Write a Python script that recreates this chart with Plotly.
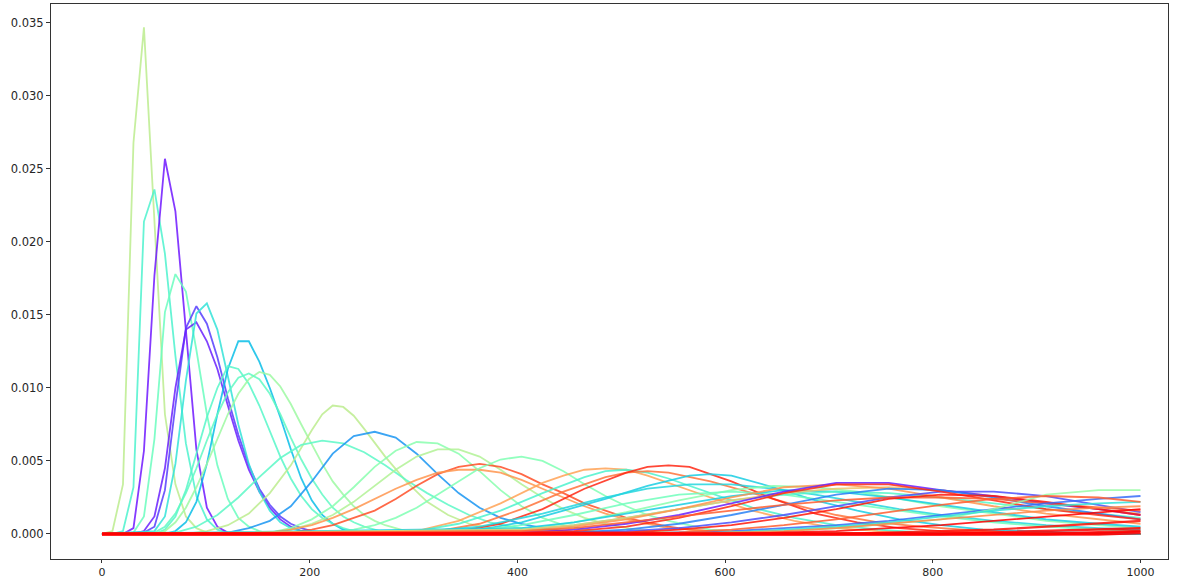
import math
import plotly.graph_objects as go

# ---------------- data ----------------
# narrow, early curves (sampled every ~10.1 units)
x01 = [0, 10.1, 20.2, 30.3, 40.4, 50.5, 60.6, 70.7, 80.8, 90.9, 101.0, 111.1, 1000]
y01 = [0, 0.0002, 0.0034, 0.0268, 0.0347, 0.0212, 0.0082, 0.0034, 0.0012, 0.0004, 0.0001, 0, 0]

x02 = [0, 10.1, 20.2, 30.3, 40.4, 50.5, 60.6, 70.7, 80.8, 90.9, 101.0, 111.1, 121.2, 1000]
y02 = [0, 0, 0.0002, 0.0032, 0.0214, 0.0236, 0.0192, 0.0122, 0.0062, 0.0026, 0.0010, 0.0003, 0.0001, 0]

x03 = [0, 20.2, 30.3, 40.4, 50.5, 60.6, 70.7, 80.8, 90.9, 101.0, 111.1, 121.2, 131.3, 1000]
y03 = [0, 0, 0.0004, 0.0057, 0.0177, 0.0257, 0.0221, 0.0138, 0.0058, 0.0018, 0.0005, 0.0001, 0, 0]

x04 = [0, 30.3, 40.4, 50.5, 60.6, 70.7, 80.8, 90.9, 101.0, 111.1, 121.2, 131.3, 141.4, 151.5, 161.6, 1000]
y04 = [0, 0.0001, 0.0012, 0.0065, 0.0152, 0.0178, 0.0166, 0.0126, 0.0082, 0.0047, 0.0024, 0.0011, 0.0005, 0.0002, 0, 0]

x05 = [0, 40.4, 50.5, 60.6, 70.7, 80.8, 90.9, 101.0, 111.1, 121.2, 131.3, 141.4, 151.5, 161.6, 171.7, 181.8, 191.9, 202.0, 212.1, 1000]
y05 = [0, 0.0001, 0.0005, 0.0030, 0.0088, 0.0141, 0.0156, 0.0144, 0.0121, 0.0093, 0.0068, 0.0047, 0.0031, 0.0020, 0.0012, 0.0007, 0.0004, 0.0002, 0.0001, 0]

x06 = [0, 30.3, 40.4, 50.5, 60.6, 70.7, 80.8, 90.9, 101.0, 111.1, 121.2, 131.3, 141.4, 151.5, 161.6, 171.7, 181.8, 191.9, 202.0, 1000]
y06 = [0, 0, 0.0002, 0.0012, 0.0045, 0.0100, 0.0140, 0.0145, 0.0132, 0.0113, 0.0088, 0.0064, 0.0044, 0.0029, 0.0018, 0.0010, 0.0005, 0.0002, 0.0001, 0]

x07 = [0, 50.5, 60.6, 70.7, 80.8, 90.9, 101.0, 111.1, 121.2, 131.3, 141.4, 151.5, 161.6, 171.7, 181.8, 191.9, 202.0, 1000]
y07 = [0, 0.0002, 0.0012, 0.0048, 0.0105, 0.0151, 0.0158, 0.0140, 0.0108, 0.0075, 0.0048, 0.0029, 0.0016, 0.0008, 0.0004, 0.0002, 0, 0]

x08 = [0, 60.6, 70.7, 80.8, 90.9, 101.0, 111.1, 121.2, 131.3, 141.4, 151.5, 161.6, 171.7, 181.8, 191.9, 202.0, 212.1, 222.2, 232.3, 242.4, 1000]
y08 = [0, 0, 0.0002, 0.0008, 0.0022, 0.0048, 0.0082, 0.0113, 0.0132, 0.0132, 0.0118, 0.0100, 0.0080, 0.0058, 0.0038, 0.0023, 0.0013, 0.0007, 0.0003, 0.0001, 0]

x09 = [0, 50.5, 60.6, 70.7, 80.8, 90.9, 101.0, 111.1, 121.2, 131.3, 141.4, 151.5, 161.6, 171.7, 181.8, 191.9, 202.0, 212.1, 222.2, 232.3, 242.4, 252.5, 1000]
y09 = [0, 0, 0.0003, 0.0012, 0.0030, 0.0055, 0.0080, 0.0100, 0.0115, 0.0113, 0.0103, 0.0088, 0.0070, 0.0053, 0.0038, 0.0026, 0.0017, 0.0011, 0.0007, 0.0004, 0.0002, 0.0001, 0]

x10 = [0, 50.5, 60.6, 70.7, 80.8, 90.9, 101.0, 111.1, 121.2, 131.3, 141.4, 151.5, 161.6, 171.7, 181.8, 191.9, 202.0, 212.1, 222.2, 232.3, 242.4, 252.5, 262.6, 272.7, 282.8, 292.9, 303.0, 1000]
y10 = [0, 0, 0.0002, 0.0008, 0.0018, 0.0032, 0.0048, 0.0065, 0.0082, 0.0096, 0.0106, 0.0111, 0.0109, 0.0101, 0.0089, 0.0075, 0.0061, 0.0048, 0.0036, 0.0027, 0.0019, 0.0013, 0.0009, 0.0006, 0.0004, 0.0002, 0.0001, 0]

x11 = [0, 50.5, 60.6, 70.7, 80.8, 90.9, 101.0, 111.1, 121.2, 131.3, 141.4, 151.5, 161.6, 171.7, 181.8, 191.9, 202.0, 212.1, 222.2, 232.3, 242.4, 252.5, 262.6, 272.7, 1000]
y11 = [0, 0.0001, 0.0005, 0.0014, 0.0028, 0.0045, 0.0064, 0.0082, 0.0097, 0.0107, 0.0110, 0.0106, 0.0096, 0.0082, 0.0066, 0.0051, 0.0038, 0.0027, 0.0018, 0.0012, 0.0008, 0.0005, 0.0003, 0.0001, 0]

# medium curves (sampled every ~20.2 units)
x12 = [0, 80.8, 101.0, 121.2, 141.4, 161.6, 181.8, 202.0, 212.1, 222.2, 232.3, 242.4, 252.5, 272.7, 292.9, 313.1, 333.3, 353.5, 373.7, 393.9, 414.1, 1000]
y12 = [0, 0, 0.0002, 0.0006, 0.0014, 0.0028, 0.0047, 0.0071, 0.0082, 0.0088, 0.0087, 0.0081, 0.0072, 0.0053, 0.0036, 0.0022, 0.0013, 0.0007, 0.0004, 0.0002, 0.0001, 0]

x13 = [0, 70.7, 90.9, 111.1, 131.3, 151.5, 171.7, 191.9, 212.1, 232.3, 252.5, 272.7, 292.9, 313.1, 333.3, 353.5, 373.7, 393.9, 414.1, 434.3, 454.5, 1000]
y13 = [0, 0.0001, 0.0005, 0.0013, 0.0025, 0.0039, 0.0052, 0.0061, 0.0064, 0.0062, 0.0056, 0.0047, 0.0037, 0.0028, 0.0020, 0.0013, 0.0008, 0.0005, 0.0003, 0.0002, 0.0001, 0]

x14 = [0, 101.0, 121.2, 141.4, 161.6, 181.8, 202.0, 222.2, 242.4, 262.6, 282.8, 303.0, 323.2, 343.4, 363.6, 383.8, 404.0, 424.2, 444.4, 464.6, 484.8, 1000]
y14 = [0, 0, 0.0001, 0.0004, 0.0009, 0.0019, 0.0036, 0.0055, 0.0067, 0.0070, 0.0066, 0.0055, 0.0041, 0.0028, 0.0018, 0.0011, 0.0007, 0.0004, 0.0002, 0.0001, 0, 0]

x15 = [0, 141.4, 161.6, 181.8, 202.0, 222.2, 242.4, 262.6, 282.8, 303.0, 323.2, 343.4, 363.6, 383.8, 404.0, 424.2, 444.4, 464.6, 484.8, 505.0, 1000]
y15 = [0, 0, 0.0001, 0.0004, 0.0010, 0.0019, 0.0032, 0.0046, 0.0057, 0.0063, 0.0062, 0.0055, 0.0043, 0.0030, 0.0019, 0.0011, 0.0006, 0.0003, 0.0001, 0, 0]

x16 = [0, 141.4, 161.6, 181.8, 202.0, 222.2, 242.4, 262.6, 282.8, 303.0, 323.2, 343.4, 363.6, 383.8, 404.0, 424.2, 444.4, 464.6, 484.8, 505.0, 525.3, 545.5, 1000]
y16 = [0, 0, 0.0001, 0.0003, 0.0007, 0.0013, 0.0022, 0.0033, 0.0044, 0.0053, 0.0058, 0.0058, 0.0053, 0.0044, 0.0034, 0.0025, 0.0017, 0.0011, 0.0007, 0.0004, 0.0002, 0.0001, 0]

x17 = [0, 161.6, 181.8, 202.0, 222.2, 242.4, 262.6, 282.8, 303.0, 323.2, 343.4, 363.6, 383.8, 404.0, 424.2, 444.4, 464.6, 484.8, 505.0, 525.3, 545.5, 565.7, 585.9, 606.1, 626.3, 1000]
y17 = [0, 0, 0.0001, 0.0003, 0.0006, 0.0011, 0.0016, 0.0024, 0.0033, 0.0041, 0.0046, 0.0048, 0.0046, 0.0041, 0.0034, 0.0028, 0.0021, 0.0016, 0.0011, 0.0008, 0.0005, 0.0003, 0.0002, 0.0001, 0, 0]

x18 = [0, 141.4, 161.6, 181.8, 202.0, 222.2, 242.4, 262.6, 282.8, 303.0, 323.2, 343.4, 363.6, 383.8, 404.0, 424.2, 444.4, 464.6, 484.8, 505.0, 525.3, 545.5, 565.7, 585.9, 606.1, 626.3, 1000]
y18 = [0, 0, 0.0001, 0.0003, 0.0006, 0.0011, 0.0017, 0.0024, 0.0031, 0.0037, 0.0042, 0.0044, 0.0044, 0.0042, 0.0037, 0.0031, 0.0025, 0.0019, 0.0014, 0.0010, 0.0007, 0.0004, 0.0003, 0.0002, 0.0001, 0, 0]

x19 = [0, 202.0, 222.2, 242.4, 262.6, 282.8, 303.0, 323.2, 343.4, 363.6, 383.8, 404.0, 424.2, 444.4, 464.6, 484.8, 505.0, 525.3, 545.5, 565.7, 585.9, 606.1, 626.3, 646.5, 1000]
y19 = [0, 0, 0.0001, 0.0003, 0.0006, 0.0011, 0.0018, 0.0027, 0.0036, 0.0045, 0.0051, 0.0053, 0.0050, 0.0043, 0.0034, 0.0026, 0.0019, 0.0013, 0.0009, 0.0006, 0.0003, 0.0002, 0.0001, 0, 0]

# wider curves (sampled every ~20-40 units)
x20 = [0, 262.6, 303.0, 343.4, 383.8, 424.2, 444.4, 464.6, 484.8, 505.0, 525.3, 545.5, 585.9, 626.3, 666.7, 707.1, 747.5, 787.9, 828.3, 1000]
y20 = [0, 0, 0.0002, 0.0009, 0.0021, 0.0035, 0.0040, 0.0044, 0.0045, 0.0044, 0.0040, 0.0035, 0.0025, 0.0016, 0.0009, 0.0004, 0.0002, 0.0001, 0, 0]

x21 = [0, 262.6, 303.0, 343.4, 383.8, 424.2, 464.6, 484.8, 505.0, 525.3, 545.5, 585.9, 626.3, 666.7, 707.1, 747.5, 787.9, 828.3, 1000]
y21 = [0, 0, 0.0002, 0.0007, 0.0016, 0.0028, 0.0039, 0.0043, 0.0044, 0.0042, 0.0038, 0.0028, 0.0018, 0.0011, 0.0006, 0.0003, 0.0001, 0, 0]

x22 = [0, 282.8, 323.2, 363.6, 404.0, 444.4, 484.8, 505.0, 525.3, 545.5, 585.9, 626.3, 666.7, 707.1, 747.5, 787.9, 828.3, 868.7, 1000]
y22 = [0, 0, 0.0002, 0.0007, 0.0017, 0.0029, 0.0039, 0.0042, 0.0043, 0.0042, 0.0036, 0.0028, 0.0020, 0.0013, 0.0008, 0.0005, 0.0003, 0.0001, 0]

x23 = [0, 303.0, 343.4, 383.8, 424.2, 464.6, 505.0, 525.3, 545.5, 565.7, 606.1, 646.5, 686.9, 727.3, 767.7, 808.1, 848.5, 888.9, 1000]
y23 = [0, 0, 0.0002, 0.0007, 0.0017, 0.0031, 0.0042, 0.0046, 0.0047, 0.0046, 0.0036, 0.0024, 0.0014, 0.0008, 0.0004, 0.0002, 0.0001, 0, 0]

x24 = [0, 303.0, 363.6, 404.0, 444.4, 484.8, 525.3, 565.7, 585.9, 606.1, 646.5, 686.9, 727.3, 767.7, 808.1, 848.5, 888.9, 929.3, 1000]
y24 = [0, 0, 0.0003, 0.0008, 0.0016, 0.0024, 0.0033, 0.0040, 0.0041, 0.0040, 0.0032, 0.0023, 0.0016, 0.0010, 0.0006, 0.0003, 0.0002, 0.0001, 0]

x25 = [0, 282.8, 363.6, 424.2, 484.8, 525.3, 565.7, 606.1, 646.5, 686.9, 727.3, 767.7, 808.1, 858.6, 909.1, 959.6, 1000]
y25 = [0, 0, 0.0005, 0.0014, 0.0025, 0.0031, 0.0034, 0.0034, 0.0031, 0.0027, 0.0022, 0.0017, 0.0013, 0.0009, 0.0006, 0.0004, 0.0003]

x26 = [0, 353.5, 404.0, 454.5, 505.0, 555.6, 606.1, 646.5, 686.9, 727.3, 767.7, 808.1, 858.6, 909.1, 959.6, 1000]
y26 = [0, 0, 0.0003, 0.0008, 0.0015, 0.0023, 0.0030, 0.0033, 0.0032, 0.0029, 0.0024, 0.0019, 0.0014, 0.0009, 0.0006, 0.0004]

x27 = [0, 303.0, 353.5, 404.0, 454.5, 505.0, 555.6, 606.1, 656.6, 707.1, 757.6, 808.1, 858.6, 909.1, 959.6, 1000]
y27 = [0, 0, 0.0002, 0.0006, 0.0013, 0.0021, 0.0027, 0.0029, 0.0027, 0.0022, 0.0017, 0.0012, 0.0008, 0.0005, 0.0003, 0.0002]

# late curves, all sampled on the same x positions
x_late = [0, 404.0, 454.5, 505.0, 555.6, 606.1, 656.6, 707.1, 757.6, 808.1, 858.6, 909.1, 959.6, 1000]
y28 = [0, 0.0004, 0.0008, 0.0014, 0.0020, 0.0026, 0.0030, 0.0029, 0.0025, 0.0020, 0.0015, 0.0010, 0.0007, 0.0005]
y29 = [0, 0.0003, 0.0006, 0.0011, 0.0017, 0.0023, 0.0027, 0.0029, 0.0028, 0.0025, 0.0021, 0.0017, 0.0014, 0.0011]
y30 = [0, 0.0003, 0.0006, 0.0011, 0.0017, 0.0023, 0.0028, 0.0031, 0.0032, 0.0030, 0.0026, 0.0021, 0.0017, 0.0014]
y31 = [0, 0.0002, 0.0005, 0.0010, 0.0017, 0.0025, 0.0032, 0.0034, 0.0031, 0.0025, 0.0019, 0.0014, 0.0010, 0.0007]
y32 = [0, 0.0001, 0.0003, 0.0007, 0.0013, 0.0021, 0.0029, 0.0035, 0.0035, 0.0030, 0.0026, 0.0021, 0.0017, 0.0013]
y33 = [0, 0, 0.0001, 0.0002, 0.0004, 0.0008, 0.0013, 0.0019, 0.0025, 0.0029, 0.0029, 0.0026, 0.0020, 0.0015]
y34 = [0, 0, 0.0001, 0.0003, 0.0007, 0.0013, 0.0020, 0.0027, 0.0031, 0.0030, 0.0025, 0.0019, 0.0014, 0.0010]
y35 = [0, 0.0001, 0.0002, 0.0005, 0.0011, 0.0019, 0.0028, 0.0034, 0.0034, 0.0029, 0.0023, 0.0017, 0.0013, 0.0010]
y36 = [0, 0.0002, 0.0004, 0.0008, 0.0012, 0.0016, 0.0020, 0.0023, 0.0025, 0.0025, 0.0024, 0.0021, 0.0018, 0.0016]
y37 = [0, 0, 0.0001, 0.0001, 0.0003, 0.0006, 0.0011, 0.0017, 0.0024, 0.0027, 0.0026, 0.0022, 0.0017, 0.0013]
y38 = [0, 0, 0, 0, 0.0001, 0.0002, 0.0004, 0.0006, 0.0009, 0.0013, 0.0017, 0.0021, 0.0024, 0.0026]
y39 = [0, 0, 0, 0, 0, 0.0001, 0.0002, 0.0004, 0.0007, 0.0010, 0.0017, 0.0027, 0.0030, 0.0030]
y40 = [0, 0, 0, 0, 0, 0.0001, 0.0003, 0.0005, 0.0008, 0.0012, 0.0016, 0.0019, 0.0021, 0.0022]
y41 = [0, 0, 0, 0, 0.0001, 0.0003, 0.0006, 0.0010, 0.0015, 0.0020, 0.0024, 0.0026, 0.0025, 0.0022]
y42 = [0, 0, 0, 0, 0, 0.0001, 0.0002, 0.0004, 0.0007, 0.0010, 0.0013, 0.0016, 0.0018, 0.0019]
y43 = [0, 0, 0, 0, 0, 0, 0.0001, 0.0002, 0.0004, 0.0006, 0.0009, 0.0012, 0.0015, 0.0017]
y44 = [0, 0, 0, 0, 0, 0, 0, 0, 0.0001, 0.0002, 0.0003, 0.0005, 0.0007, 0.0009]
y45 = [0, 0, 0, 0, 0, 0, 0, 0, 0, 0, 0.0001, 0.0002, 0.0003, 0.0004]
y46 = [0, 0, 0, 0, 0, 0, 0, 0, 0, 0, 0, 0, 0.0001, 0.0002]
y47 = [0, 0, 0, 0, 0, 0, 0, 0, 0, 0, 0, 0, 0, 0.0001]

CURVES = [
    (x01, y01), (x02, y02), (x03, y03), (x04, y04), (x05, y05), (x06, y06),
    (x07, y07), (x08, y08), (x09, y09), (x10, y10), (x11, y11), (x12, y12),
    (x13, y13), (x14, y14), (x15, y15), (x16, y16), (x17, y17), (x18, y18),
    (x19, y19), (x20, y20), (x21, y21), (x22, y22), (x23, y23), (x24, y24),
    (x25, y25), (x26, y26), (x27, y27),
    (x_late, y28), (x_late, y29), (x_late, y30), (x_late, y31), (x_late, y32),
    (x_late, y33), (x_late, y34), (x_late, y35), (x_late, y36), (x_late, y37),
    (x_late, y38), (x_late, y39), (x_late, y40), (x_late, y41), (x_late, y42),
    (x_late, y43), (x_late, y44), (x_late, y45), (x_late, y46), (x_late, y47),
]

# position of each curve's colour in the "rainbow" colormap (style)
COLOR_T = [0.62, 0.40, 0.03, 0.46, 0.08, 0.04, 0.35, 0.27, 0.42, 0.56,
           0.44, 0.62, 0.43, 0.20, 0.52, 0.60, 0.90, 0.80, 0.50, 0.78,
           0.40, 0.85, 0.95, 0.30, 0.32, 0.52, 0.47,
           0.30, 0.42, 0.72, 0.80, 0.04, 0.10, 0.17, 0.95, 0.88, 0.97,
           0.14, 0.55, 0.35, 0.88, 0.82, 1.00, 0.98, 1.00, 1.00, 1.00]
# line widths (style): the last flat red curves form the thick baseline
LINE_W = [1.8] * 43 + [2.2, 2.5, 2.8, 3.5]

X_TICKS = [0, 200, 400, 600, 800, 1000]
Y_TICKS = [0.000, 0.005, 0.010, 0.015, 0.020, 0.025, 0.030, 0.035]


def rainbow(t):
    r = min(1.0, abs(2 * t - 0.5))
    g = math.sin(math.pi * t)
    b = math.cos(math.pi * t / 2)
    return "rgb(%d,%d,%d)" % (round(r * 255), round(max(g, 0) * 255), round(max(b, 0) * 255))


fig = go.Figure()
for (xs, ys), t, w in zip(CURVES, COLOR_T, LINE_W):
    fig.add_trace(go.Scatter(
        x=xs, y=ys, mode="lines",
        line=dict(color=rainbow(t), width=w),
        opacity=0.85, showlegend=False, hoverinfo="skip",
    ))

axis_common = dict(
    showline=True, linecolor="#333333", linewidth=1, mirror=True,
    ticks="outside", tickcolor="#333333", tickwidth=1,
    showgrid=False, zeroline=False, automargin=False,
)

fig.update_layout(
    width=1184, height=579,
    margin=dict(l=51, r=16, t=4, b=20),
    paper_bgcolor="white", plot_bgcolor="white",
    xaxis=dict(range=[-49.1, 1026.5], tickvals=X_TICKS,
               ticktext=[str(v) for v in X_TICKS], ticklen=3,
               tickfont=dict(family="DejaVu Sans", size=11, color="#262626"),
               **axis_common),
    yaxis=dict(range=[-0.001714, 0.0363], tickvals=Y_TICKS,
               ticktext=["%.3f" % v for v in Y_TICKS], ticklen=4,
               tickfont=dict(family="DejaVu Sans", size=11.5, color="#262626"),
               **axis_common),
)

fig.write_html(
    "out.html",
    config={"displayModeBar": False},
    post_script="document.body.style.margin='0';document.body.style.overflow='hidden';",
)
